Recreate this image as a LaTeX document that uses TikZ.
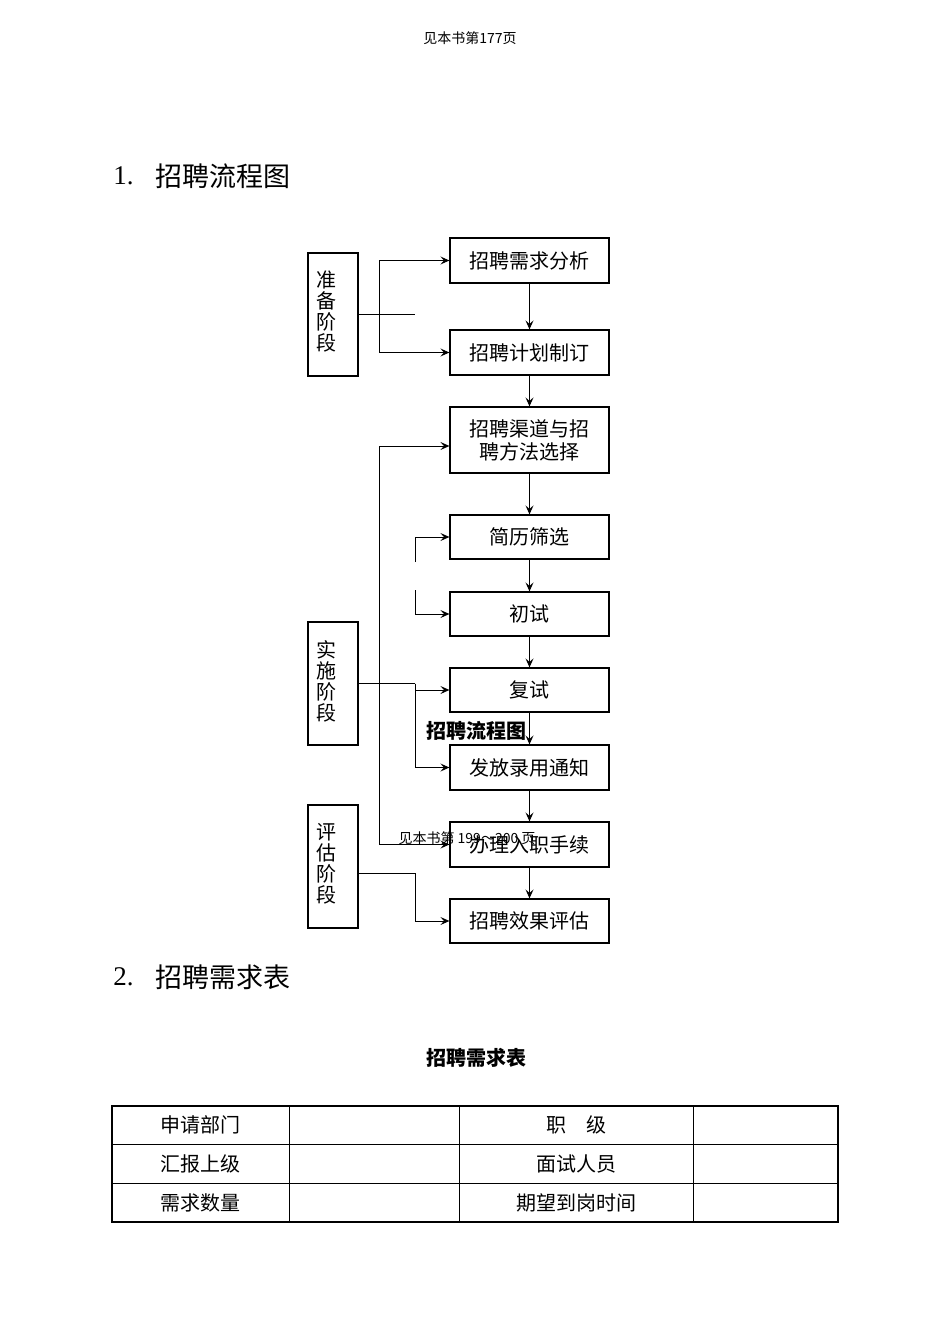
\documentclass[tikz,border=0pt]{standalone}
\usepackage{fontspec}
\setmainfont{Liberation Serif}
\newfontfamily\cjk{Noto Sans CJK SC}
\usetikzlibrary{arrows.meta,positioning}

\begin{document}
\begin{tikzpicture}[x=0.5pt,y=-0.5pt,
box/.style={draw,rectangle,line width=0.6pt,minimum width=79.5pt,minimum height=22.5pt,inner sep=1pt,align=center,font=\cjk\fontsize{10}{11.5}\selectfont},
stage/.style={draw,rectangle,line width=0.6pt,minimum width=25pt,minimum height=61.5pt,inner sep=1pt},
stagetext/.style={align=center,font=\cjk\fontsize{10}{10.5}\selectfont},
conn/.style={line width=0.5pt,-{Stealth[length=4.5pt,width=4pt,inset=1.8pt]}},
wire/.style={line width=0.5pt},
title/.style={anchor=west,inner sep=0pt,font=\cjk\fontsize{13.5}{14}\selectfont},
caption/.style={inner sep=0pt,font=\cjk\bfseries\fontsize{10}{12}\selectfont},
note/.style={inner sep=0pt,font=\cjk\fontsize{7}{8}\selectfont},
cell/.style={inner sep=0pt,font=\cjk\fontsize{10}{12}\selectfont}]
\useasboundingbox (0,0) rectangle (950,1342);

% page header and headings
\node (pagenote) [note] at (470,38) {见本书第177页};
\node (num1) [anchor=west,inner sep=0pt,font=\fontsize{13.5}{14}\selectfont] at (113,176) {1.};
\node (head1) [title] at (155,176) {招聘流程图};

% flow boxes
\node (need) [box] at (529.5,260.5) {招聘需求分析};
\node (plan) [box] at (529.5,352.5) {招聘计划制订};
\node (channel) [box,minimum height=33pt] at (529.5,440) {招聘渠道与招\\聘方法选择};
\node (screen) [box,minimum height=22pt] at (529.5,537) {简历筛选};
\node (first) [box,minimum height=22pt] at (529.5,614) {初试};
\node (second) [box,minimum height=22pt] at (529.5,690) {复试};
\node (notice) [box] at (529.5,767.5) {发放录用通知};
\node (entry) [box] at (529.5,844.5) {办理入职手续};
\node (result) [box,minimum height=22pt] at (529.5,921) {招聘效果评估};

% stage boxes
\node (prep) [stage] at (333,314.5) {};
\node [stagetext] at (326,312) {准\\备\\阶\\段};
\node (impl) [stage] at (333,683.5) {};
\node [stagetext] at (326,681) {实\\施\\阶\\段};
\node (assess) [stage] at (333,866.5) {};
\node [stagetext] at (326,864) {评\\估\\阶\\段};

% main chain
\draw[conn] (need) -- (plan);
\draw[conn] (plan) -- (channel);
\draw[conn] (channel) -- (screen);
\draw[conn] (screen) -- (first);
\draw[conn] (first) -- (second);
\draw[conn] (second) -- (notice);
\draw[conn] (notice) -- (entry);
\draw[conn] (entry) -- (result);

% preparation stage links
\coordinate (pj) at (379,314.5);
\coordinate (pend) at (415,314.5);
\draw[wire] (prep.east) -- (pend);
\draw[conn] (pj) |- (need.west);
\draw[conn] (pj) |- (plan.west);

% implementation stage links
\coordinate (ij) at (379,683.5);
\coordinate (ik) at (415,683.5);
\draw[conn] (ij) |- ([yshift=-3pt]channel.west);
\draw[conn] (ij) |- (entry.west);
\draw[wire] (impl.east) -- (ik);
\draw[conn] (ik) |- (second.west);
\draw[conn] (ik) |- (notice.west);
\coordinate (sa) at (415,562);
\coordinate (sb) at (415,590);
\draw[conn] (sa) |- (screen.west);
\draw[conn] (sb) |- (first.west);

% evaluation stage link
\draw[conn] ([yshift=-3.25pt]assess.east) -- ++(57,0) |- (result.west);

% overlaid captions
\node (cap1) [caption] at (476,731) {招聘流程图};
\node (pagenote2) [note] at (467,838) {见本书第 199～200 页};

% second heading
\node (num2) [anchor=west,inner sep=0pt,font=\fontsize{13.5}{14}\selectfont] at (113,977) {2.};
\node (head2) [title] at (155,977) {招聘需求表};
\node (cap2) [caption] at (476,1058) {招聘需求表};

% table
\draw[line width=0.5pt] (112,1144.5) -- (838,1144.5) (112,1183) -- (838,1183);
\foreach \cx in {289,459,693} \draw[line width=0.5pt] (\cx,1106) -- (\cx,1222);
\draw[line width=1pt] (112,1106) rectangle (838,1222);
\node (c11) [cell] at (200.5,1125) {申请部门};
\node (c21) [cell] at (200.5,1163.5) {汇报上级};
\node (c31) [cell] at (200.5,1202.5) {需求数量};
\node (c13) [cell] at (576,1125) {职\hspace{10pt}级};
\node (c23) [cell] at (576,1163.5) {面试人员};
\node (c33) [cell] at (576,1202.5) {期望到岗时间};
\end{tikzpicture}
\end{document}
